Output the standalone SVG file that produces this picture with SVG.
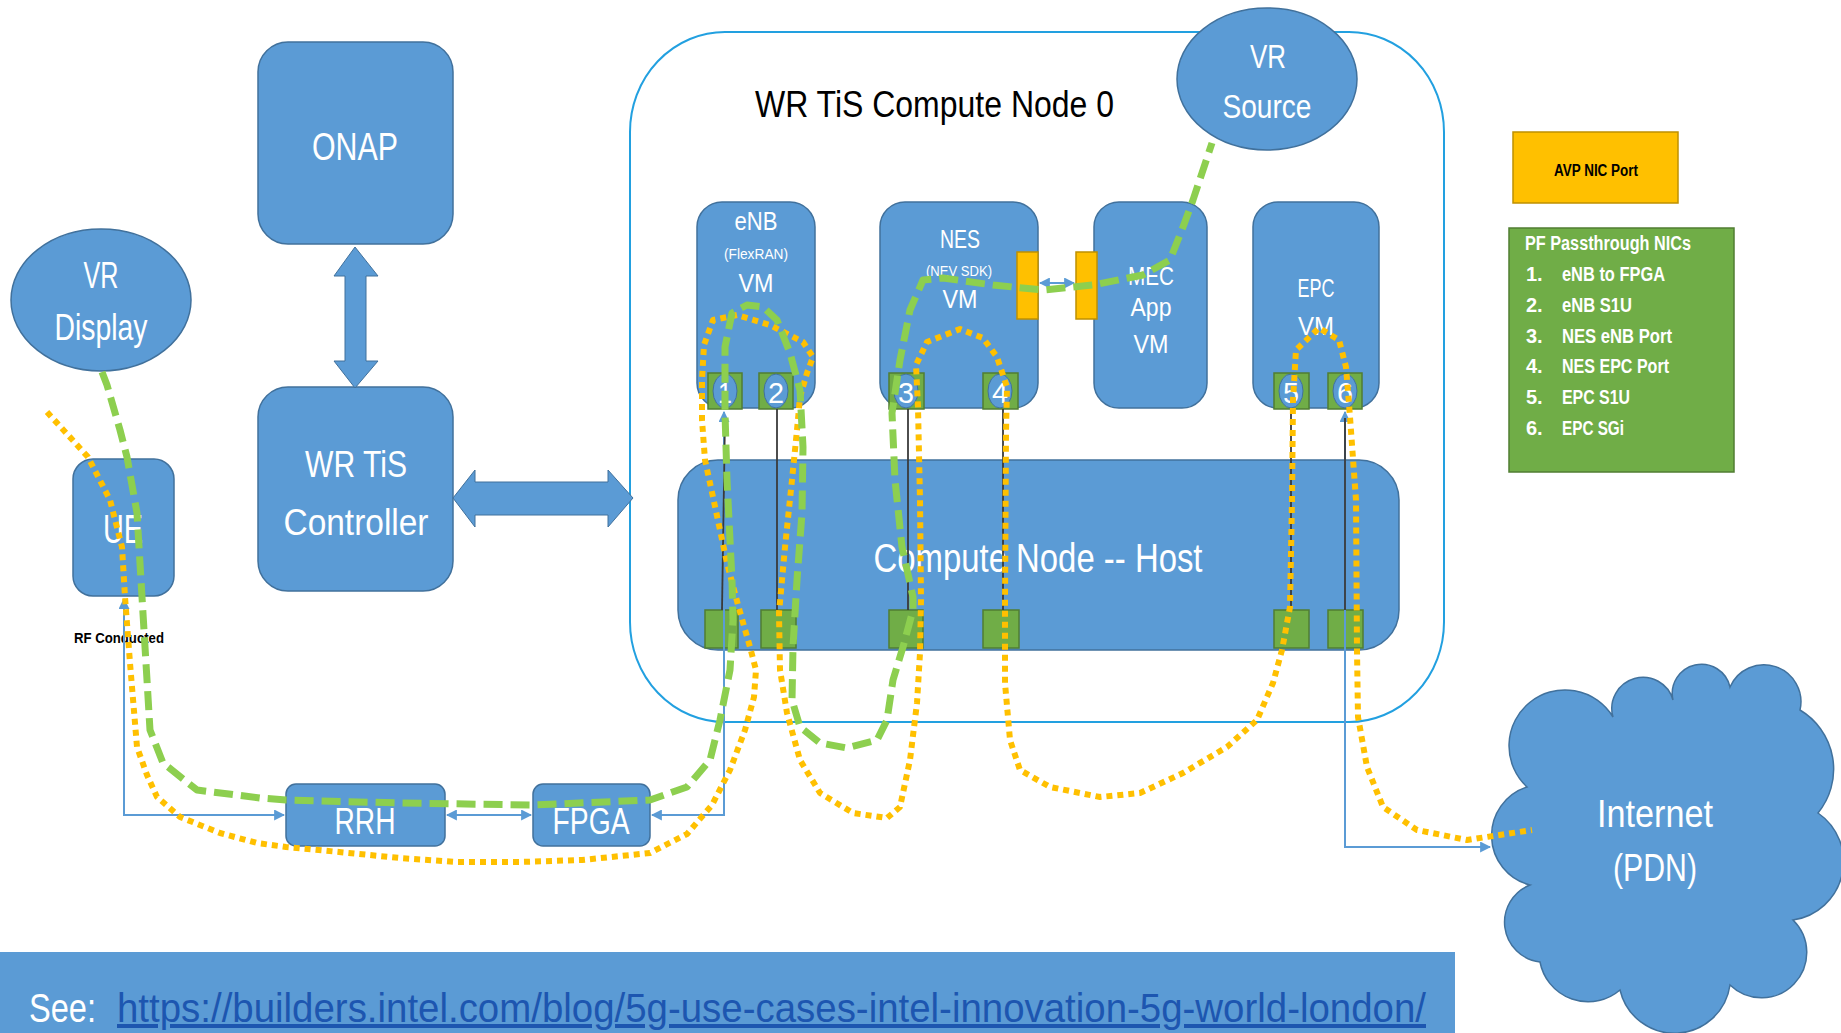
<svg xmlns="http://www.w3.org/2000/svg" width="1841" height="1033" viewBox="0 0 1841 1033">
<style>
.box{fill:#5b9bd5;stroke:#41719c;stroke-width:1.5}
.port{fill:#70ad47;stroke:#507e32;stroke-width:1.5}
.avp{fill:#ffc000;stroke:#bf9000;stroke-width:1.5}
.pe{fill:#5b9bd5;stroke:#41719c;stroke-width:1}
.t{font-family:"Liberation Sans",Arial,sans-serif;fill:#ffffff;text-anchor:middle}
.tb{font-family:"Liberation Sans",Arial,sans-serif;fill:#000000}
.num{font-family:"Liberation Sans",Arial,sans-serif;fill:#ffffff;text-anchor:middle;font-size:30px}
.leg{font-family:"Liberation Sans",Arial,sans-serif;fill:#ffffff;font-size:20px;font-weight:bold}
.conn{fill:none;stroke:#5b9bd5;stroke-width:2}
.blk{fill:none;stroke:#3a3a3a;stroke-width:1.8}
.orange{fill:none;stroke:#ffc000;stroke-width:6;stroke-dasharray:6 5;stroke-linejoin:round}
.green{fill:none;stroke:#8dcf4f;stroke-width:7;stroke-dasharray:19 8;stroke-linejoin:round}
</style>
<defs>
<marker id="ah" viewBox="0 0 10 10" refX="9" refY="5" markerWidth="5.5" markerHeight="5.5" orient="auto-start-reverse">
<path d="M0,0 L10,5 L0,10 z" fill="#5b9bd5"/>
</marker>
</defs>
<rect x="0" y="0" width="1841" height="1033" fill="#ffffff"/>

<g id="compute-node-0">
<rect x="630" y="32" width="814" height="690" rx="95" ry="100" fill="none" stroke="#22a0e0" stroke-width="2"/>
<text class="tb" x="755" y="117" font-size="37" textLength="359" lengthAdjust="spacingAndGlyphs">WR TiS Compute Node 0</text>
</g>

<g id="onap">
<rect class="box" x="258" y="42" width="195" height="202" rx="30"/>
<text class="t" x="355" y="160" font-size="38" textLength="86" lengthAdjust="spacingAndGlyphs">ONAP</text>
</g>

<g id="vr-display">
<ellipse class="box" cx="101" cy="300" rx="90" ry="71"/>
<text class="t" x="101" y="288" font-size="36" textLength="35" lengthAdjust="spacingAndGlyphs">VR</text>
<text class="t" x="101" y="340" font-size="36" textLength="93" lengthAdjust="spacingAndGlyphs">Display</text>
</g>

<g id="controller">
<rect class="box" x="258" y="387" width="195" height="204" rx="30"/>
<text class="t" x="356" y="477" font-size="37" textLength="102" lengthAdjust="spacingAndGlyphs">WR TiS</text>
<text class="t" x="356" y="535" font-size="37" textLength="145" lengthAdjust="spacingAndGlyphs">Controller</text>
</g>

<g id="onap-controller-arrow">
<polygon points="355,247 378,276 366,276 366,361 378,361 355,388 334,361 345,361 345,276 334,276" fill="#5b9bd5" stroke="#41719c" stroke-width="1"/>
</g>
<g id="controller-compute-arrow">
<polygon points="453,498 475,470 475,482 608,482 608,470 633,498 608,527 608,515 475,515 475,527" fill="#5b9bd5" stroke="#41719c" stroke-width="1"/>
</g>

<g id="ue">
<rect class="box" x="73" y="459" width="101" height="137" rx="20"/>
<text class="t" x="123" y="543" font-size="40" textLength="40" lengthAdjust="spacingAndGlyphs">UE</text>
<text class="tb" x="74" y="643" font-size="15" font-weight="bold" textLength="90" lengthAdjust="spacingAndGlyphs">RF Conducted</text>
</g>

<g id="rrh">
<rect class="box" x="286" y="784" width="159" height="62" rx="10"/>
<text class="t" x="365" y="834" font-size="36" textLength="61" lengthAdjust="spacingAndGlyphs">RRH</text>
</g>

<g id="fpga">
<rect class="box" x="533" y="784" width="117" height="62" rx="10"/>
<text class="t" x="591" y="834" font-size="36" textLength="77" lengthAdjust="spacingAndGlyphs">FPGA</text>
</g>

<g id="vr-source">
<ellipse class="box" cx="1267" cy="79" rx="90" ry="71"/>
<text class="t" x="1268" y="68" font-size="34" textLength="36" lengthAdjust="spacingAndGlyphs">VR</text>
<text class="t" x="1267" y="118" font-size="34" textLength="89" lengthAdjust="spacingAndGlyphs">Source</text>
</g>

<g id="enb-vm">
<rect class="box" x="697" y="202" width="118" height="206" rx="25"/>
<text class="t" x="756" y="230" font-size="25" textLength="43" lengthAdjust="spacingAndGlyphs">eNB</text>
<text class="t" x="756" y="259" font-size="15" textLength="64" lengthAdjust="spacingAndGlyphs">(FlexRAN)</text>
<text class="t" x="756" y="292" font-size="26" textLength="35" lengthAdjust="spacingAndGlyphs">VM</text>
<rect class="port" x="708" y="373" width="34" height="36"/>
<ellipse class="pe" cx="725" cy="391" rx="12" ry="17"/>
<text class="num" x="725" y="403" textLength="14" lengthAdjust="spacingAndGlyphs">1</text>
<rect class="port" x="759" y="373" width="34" height="36"/>
<ellipse class="pe" cx="776" cy="391" rx="12" ry="17"/>
<text class="num" x="776" y="403" textLength="16" lengthAdjust="spacingAndGlyphs">2</text>
</g>

<g id="nes-vm">
<rect class="box" x="880" y="202" width="158" height="206" rx="25"/>
<text class="t" x="960" y="248" font-size="25" textLength="40" lengthAdjust="spacingAndGlyphs">NES</text>
<text class="t" x="959" y="276" font-size="15" textLength="66" lengthAdjust="spacingAndGlyphs">(NEV SDK)</text>
<text class="t" x="960" y="308" font-size="26" textLength="35" lengthAdjust="spacingAndGlyphs">VM</text>
<rect class="avp" x="1017" y="252" width="21" height="67"/>
<rect class="port" x="889" y="373" width="35" height="36"/>
<ellipse class="pe" cx="906" cy="391" rx="12" ry="17"/>
<text class="num" x="906" y="403" textLength="16" lengthAdjust="spacingAndGlyphs">3</text>
<rect class="port" x="983" y="373" width="35" height="36"/>
<ellipse class="pe" cx="1000" cy="391" rx="12" ry="17"/>
<text class="num" x="1000" y="403" textLength="16" lengthAdjust="spacingAndGlyphs">4</text>
</g>

<g id="mec-vm">
<rect class="box" x="1094" y="202" width="113" height="206" rx="25"/>
<text class="t" x="1151" y="285" font-size="26" textLength="46" lengthAdjust="spacingAndGlyphs">MEC</text>
<text class="t" x="1151" y="316" font-size="26" textLength="41" lengthAdjust="spacingAndGlyphs">App</text>
<text class="t" x="1151" y="353" font-size="26" textLength="35" lengthAdjust="spacingAndGlyphs">VM</text>
<rect class="avp" x="1076" y="252" width="21" height="67"/>
</g>

<g id="epc-vm">
<rect class="box" x="1253" y="202" width="126" height="206" rx="25"/>
<text class="t" x="1316" y="297" font-size="26" textLength="37" lengthAdjust="spacingAndGlyphs">EPC</text>
<text class="t" x="1316" y="335" font-size="26" textLength="36" lengthAdjust="spacingAndGlyphs">VM</text>
<rect class="port" x="1274" y="373" width="35" height="36"/>
<ellipse class="pe" cx="1291" cy="391" rx="12" ry="17"/>
<text class="num" x="1291" y="403" textLength="16" lengthAdjust="spacingAndGlyphs">5</text>
<rect class="port" x="1328" y="373" width="34" height="36"/>
<ellipse class="pe" cx="1345" cy="391" rx="12" ry="17"/>
<text class="num" x="1345" y="403" textLength="16" lengthAdjust="spacingAndGlyphs">6</text>
</g>

<g id="host">
<rect class="box" x="678" y="460" width="721" height="190" rx="40"/>
<text class="t" x="1038" y="572" font-size="40" textLength="329" lengthAdjust="spacingAndGlyphs">Compute Node -- Host</text>
<rect class="port" x="705" y="610" width="33" height="38"/>
<rect class="port" x="761" y="610" width="35" height="38"/>
<rect class="port" x="889" y="610" width="34" height="38"/>
<rect class="port" x="983" y="610" width="36" height="38"/>
<rect class="port" x="1274" y="610" width="35" height="38"/>
<rect class="port" x="1328" y="610" width="35" height="38"/>
</g>

<g id="internet">
<path class="box" d="M1527,787 A56,56 0 1 1 1613,717 A31,31 0 1 1 1673,700 A29,29 0 1 1 1730,687 A37,37 0 0 1 1800,710 A69,69 0 0 1 1818,813 A59,59 0 0 1 1793,920 A45,45 0 0 1 1730,985 A56,56 0 0 1 1620,990 A49,49 0 0 1 1540,962 A40,40 0 0 1 1530,885 A51,51 0 0 1 1527,787 Z"/>
<text class="t" x="1655" y="827" font-size="38" textLength="116" lengthAdjust="spacingAndGlyphs">Internet</text>
<text class="t" x="1655" y="881" font-size="38" textLength="84" lengthAdjust="spacingAndGlyphs">(PDN)</text>
</g>

<g id="legend-avp">
<rect class="avp" x="1513" y="132" width="165" height="71"/>
<text class="tb" x="1596" y="176" font-size="16" font-weight="bold" text-anchor="middle" textLength="84" lengthAdjust="spacingAndGlyphs">AVP NIC Port</text>
</g>

<g id="legend-pf">
<rect x="1509" y="228" width="225" height="244" fill="#70ad47" stroke="#507e32" stroke-width="1.5"/>
<text class="leg" x="1525" y="250" textLength="166" lengthAdjust="spacingAndGlyphs">PF Passthrough NICs</text>
<text class="leg" x="1526" y="281">1.</text><text class="leg" x="1562" y="281" textLength="103" lengthAdjust="spacingAndGlyphs">eNB to FPGA</text>
<text class="leg" x="1526" y="312">2.</text><text class="leg" x="1562" y="312" textLength="70" lengthAdjust="spacingAndGlyphs">eNB S1U</text>
<text class="leg" x="1526" y="343">3.</text><text class="leg" x="1562" y="343" textLength="110" lengthAdjust="spacingAndGlyphs">NES eNB Port</text>
<text class="leg" x="1526" y="373">4.</text><text class="leg" x="1562" y="373" textLength="107" lengthAdjust="spacingAndGlyphs">NES EPC Port</text>
<text class="leg" x="1526" y="404">5.</text><text class="leg" x="1562" y="404" textLength="68" lengthAdjust="spacingAndGlyphs">EPC S1U</text>
<text class="leg" x="1526" y="435">6.</text><text class="leg" x="1562" y="435" textLength="62" lengthAdjust="spacingAndGlyphs">EPC SGi</text>
</g>

<g id="footer">
<rect x="0" y="952" width="1455" height="81" fill="#5b9bd5"/>
<text x="29" y="1022" font-family="Liberation Sans, Arial, sans-serif" font-size="40" fill="#ffffff" textLength="67" lengthAdjust="spacingAndGlyphs">See:</text>
<text x="117" y="1022" font-family="Liberation Sans, Arial, sans-serif" font-size="40" fill="#1d56b0" text-decoration="underline" textLength="1309" lengthAdjust="spacingAndGlyphs">https://builders.intel.com/blog/5g-use-cases-intel-innovation-5g-world-london/</text>
</g>

<g id="connectors">
<path class="conn" d="M652,815 L724,815 L724,412" marker-start="url(#ah)" marker-end="url(#ah)"/>
<path class="conn" d="M1345,412 L1345,847 L1490,847" marker-start="url(#ah)" marker-end="url(#ah)"/>
<path class="conn" d="M447,815 L531,815" marker-start="url(#ah)" marker-end="url(#ah)"/>
<path class="conn" d="M124,599 L124,815 L284,815" marker-start="url(#ah)" marker-end="url(#ah)"/>
<path class="conn" d="M1040,283 L1074,283" marker-start="url(#ah)" marker-end="url(#ah)"/>
<path class="blk" d="M725,418 L722,610"/>
<path class="blk" d="M777,409 L777,610" stroke="#8a8a8a"/>
<path class="blk" d="M908,409 L908,610"/>
<path class="blk" d="M1003,409 L1003,610"/>
<path class="blk" d="M1291,409 L1291,610"/>
<path class="blk" d="M1345,418 L1345,610"/>
<path class="orange" d="M47,412 L88,457 L110,500 L122,547 L125,597 L130,663 L137,747 L147,775 L157,797 L180,817 L220,833 L257,843 L286,847 L339,852 L400,858 L456,862 L520,862 L582,860 L650,853 L687,834 L712,805 L730,770 L745,730 L754,697 L756,670 L750,647 L738,605 L727,563 L713,497 L705,460 L702,420 L702,380 L704,345 L713,320 L737,315 L770,325 L803,342 L813,357 L807,373 L800,397 L797,430 L792,480 L785,547 L779,613 L780,670 L787,713 L800,760 L820,793 L853,813 L887,818 L900,807 L910,760 L917,703 L920,653 L921,600 L920,500 L918,407 L916,365 L927,342 L960,329 L983,338 L997,357 L1007,387 L1006,433 L1005,600 L1005,683 L1010,740 L1020,770 L1050,787 L1100,797 L1140,793 L1183,773 L1227,747 L1257,720 L1273,683 L1282,650 L1290,607 L1292,500 L1293,400 L1296,350 L1319,328 L1339,340 L1346,367 L1350,417 L1356,500 L1357,650 L1358,717 L1367,767 L1383,807 L1417,830 L1467,840 L1532,830"/>
<path class="green" d="M102,372 L107,385 L120,430 L127,457 L137,513 L142,597 L147,680 L150,730 L163,763 L197,790 L260,798 L286,800 L400,803 L533,805 L650,800 L687,787 L710,760 L720,720 L730,670 L733,620 L732,580 L727,480 L725,413 L725,347 L732,313 L747,305 L763,307 L777,320 L790,353 L800,390 L803,447 L802,513 L797,580 L793,647 L792,700 L800,727 L820,743 L847,748 L877,740 L887,720 L893,680 L903,647 L913,610 L913,597 L902,547 L895,480 L892,413 L900,360 L910,310 L923,280 L943,278 L993,285 L1043,290 L1093,285 L1143,275 L1170,260 L1183,227 L1193,200 L1212,143"/>
</g>
</svg>
